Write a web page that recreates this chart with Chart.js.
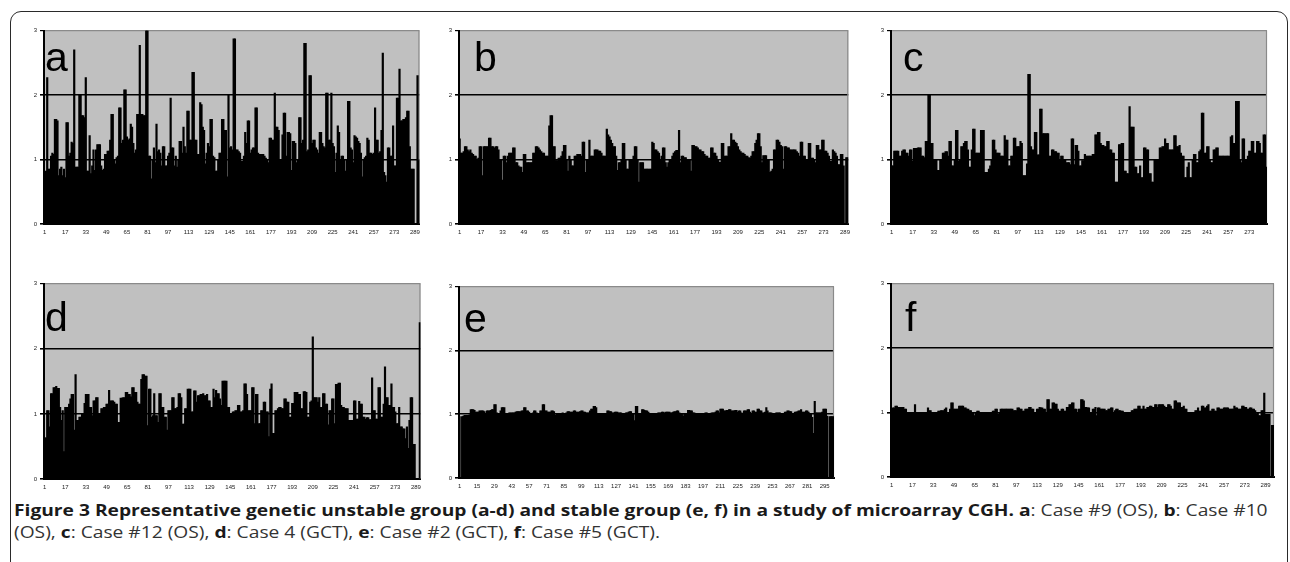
<!DOCTYPE html>
<html>
<head>
<meta charset="utf-8">
<script src="https://cdn.jsdelivr.net/npm/chart.js@4.4.1/dist/chart.umd.min.js"></script>
<style>
  html, body { margin: 0; padding: 0; background: #fff; }
  body { width: 1290px; height: 562px; position: relative; overflow: hidden; }
  #frame { position: absolute; left: 10px; top: 11px; width: 1276px; height: 620px; border: 1.5px solid #2a2a2a; border-radius: 11px; }
  .panel { position: absolute; }
  .letter { position: absolute; font-family: "Liberation Sans", Arial, sans-serif; font-size: 41px; line-height: 41px; color: #000; }
  #caption { position: absolute; left: 14px; top: 499px; font-family: "Open Sans", sans-serif; font-size: 16px; line-height: 22px; color: #333; white-space: nowrap; transform: scaleX(1.2); transform-origin: 0 0; }
  #caption b { color: #1a1a1a; font-weight: 700; }
</style>
</head>
<body>
<div id="frame"></div>
<div id="caption"><b>Figure 3 Representative genetic unstable group (a-d) and stable group (e, f) in a study of microarray CGH.</b> <b>a</b>: Case #9 (OS), <b>b</b>: Case #10<br>(OS), <b>c</b>: Case #12 (OS), <b>d</b>: Case 4 (GCT), <b>e</b>: Case #2 (GCT), <b>f</b>: Case #5 (GCT).</div>
<script>
// copy-number ratios per clone
const caseA = [
  0.8, 0.82, 2.27, 0.85, 0.85, 1.05, 1.1, 1.08, 1.62, 1.62,
  1.6, 0.75, 0.85, 0.88, 0.75, 0.85, 0.72, 1.57, 1.57, 1.05,
  1.1, 1.27, 1.25, 2.7, 0.88, 0.88, 0.88, 2.0, 2.0, 1.68,
  1.68, 1.65, 2.27, 0.82, 0.82, 1.37, 0.78, 0.9, 1.15, 0.83,
  1.15, 1.23, 1.23, 1.23, 0.9, 0.83, 0.85, 1.08, 1.08, 1.13,
  1.13, 1.3, 1.7, 1.7, 1.0, 0.93, 1.03, 1.05, 1.8, 1.8,
  1.25, 1.3, 2.08, 2.08, 1.35, 1.3, 1.32, 1.55, 1.5, 1.25,
  1.1, 1.15, 1.7, 1.7, 2.77, 1.7, 1.7, 1.68, 1.68, 3.0,
  3.0, 1.05, 1.05, 0.7, 1.0, 1.18, 0.95, 1.55, 1.12, 1.15,
  1.1, 0.9, 1.2, 1.2, 0.9, 0.9, 1.05, 1.1, 1.95, 1.18,
  1.18, 0.9, 1.05, 0.88, 1.0, 1.28, 1.28, 1.1, 1.5, 1.2,
  1.1, 1.75, 1.75, 1.3, 1.3, 2.35, 2.35, 1.3, 1.3, 1.08,
  1.08, 1.88, 1.85, 1.5, 1.45, 0.93, 1.1, 1.25, 1.2, 1.62,
  1.62, 1.05, 1.03, 0.82, 0.82, 1.0, 1.1, 1.1, 1.62, 1.62,
  1.45, 1.45, 0.73, 2.0, 1.18, 1.2, 1.15, 2.87, 2.87, 1.15,
  1.15, 1.12, 1.1, 0.97, 0.97, 1.05, 1.42, 1.25, 1.6, 1.6,
  1.1, 1.15, 1.18, 1.18, 1.8, 1.8, 1.1, 1.08, 1.08, 1.08,
  1.08, 1.05, 1.02, 1.0, 0.95, 1.33, 1.33, 1.3, 1.3, 2.03,
  1.5, 1.5, 1.45, 1.0, 1.0, 1.38, 1.72, 1.72, 1.05, 1.42,
  1.42, 1.4, 0.83, 1.28, 1.28, 1.25, 0.95, 1.0, 1.65, 1.65,
  1.25, 1.3, 2.8, 2.8, 1.12, 1.15, 2.3, 2.3, 1.25, 1.3,
  1.3, 1.18, 1.15, 1.1, 1.42, 1.42, 1.25, 1.2, 1.18, 2.03,
  2.03, 1.3, 1.3, 2.03, 1.25, 1.2, 0.8, 1.1, 1.52, 1.42,
  1.0, 1.05, 1.05, 1.0, 0.82, 1.0, 1.9, 1.9, 1.18, 1.15,
  0.95, 1.37, 1.35, 1.33, 1.28, 1.25, 1.1, 0.73, 1.0, 1.03,
  1.05, 1.33, 1.3, 1.1, 1.1, 1.08, 1.1, 1.8, 1.3, 1.3,
  1.1, 1.12, 1.45, 2.65, 0.8, 0.75, 0.65, 1.18, 1.18, 1.05,
  1.05, 1.52, 0.9, 0.9, 1.95, 1.95, 2.4, 1.6, 1.6, 1.62,
  1.62, 1.65, 1.75, 1.75, 1.2, 0.85, 0.85, 0.85, 0, 0, 2.3, 0.98
];
const caseB = [
  1.32, 1.1, 1.1, 1.12, 1.2, 1.2, 1.15, 1.12, 1.15, 1.1,
  1.08, 1.05, 1.05, 1.0, 1.02, 1.2, 1.2, 0.75, 1.2, 1.2,
  1.2, 1.2, 1.33, 1.33, 1.2, 1.2, 1.18, 1.2, 1.2, 1.15,
  1.0, 1.0, 0.68, 1.05, 1.05, 0.95, 1.05, 1.1, 1.1, 1.1,
  1.18, 1.18, 0.95, 0.95, 0.9, 0.88, 0.88, 0.8, 1.08, 1.08,
  0.95, 0.95, 0.95, 0.95, 0.95, 1.1, 1.1, 1.2, 1.2, 1.18,
  1.15, 1.12, 1.1, 1.1, 1.05, 1.05, 1.05, 1.52, 1.68, 1.68,
  1.2, 1.2, 0.98, 0.98, 1.02, 1.02, 1.05, 1.12, 1.22, 1.22,
  1.0, 0.82, 1.05, 1.0, 0.9, 0.9, 1.05, 1.05, 1.08, 1.08,
  1.08, 1.05, 1.27, 1.27, 0.8, 1.0, 1.0, 1.3, 1.05, 1.05,
  1.05, 1.15, 1.15, 1.15, 1.13, 1.13, 1.1, 1.05, 1.05, 1.05,
  1.47, 1.38, 1.35, 1.3, 1.25, 1.2, 1.2, 1.05, 0.83, 0.95,
  0.95, 1.0, 1.25, 1.25, 1.0, 0.85, 0.85, 1.0, 1.0, 1.0,
  1.05, 1.2, 1.2, 1.0, 0.65, 0.95, 0.95, 0.95, 0.85, 0.85,
  0.85, 0.85, 0.85, 0.85, 1.27, 1.25, 1.15, 1.15, 1.12, 1.1,
  1.0, 1.05, 1.18, 1.18, 0.95, 0.88, 0.95, 1.0, 1.0, 1.05,
  1.1, 1.12, 1.14, 1.14, 1.45, 0.95, 1.05, 1.05, 1.03, 1.03,
  1.0, 1.0, 1.0, 0.82, 1.22, 1.22, 1.2, 1.2, 1.18, 1.15,
  1.15, 1.12, 1.12, 1.08, 1.05, 1.05, 1.02, 1.02, 1.18, 1.18,
  1.1, 1.1, 1.05, 1.0, 0.96, 0.96, 1.25, 1.25, 1.05, 1.05,
  1.05, 1.2, 1.2, 1.4, 1.3, 1.3, 1.27, 1.25, 1.2, 1.15,
  1.12, 1.1, 1.1, 1.08, 1.05, 1.05, 1.03, 1.02, 1.05, 1.12,
  1.12, 1.25, 1.3, 1.4, 1.4, 1.2, 0.95, 1.06, 1.06, 1.06,
  1.0, 1.0, 0.8, 0.82, 0.85, 1.15, 1.15, 1.3, 1.3, 1.27,
  1.22, 1.2, 0.85, 1.2, 1.2, 1.18, 1.18, 1.15, 1.15, 1.15,
  1.15, 1.15, 1.12, 1.1, 1.05, 1.27, 1.27, 1.05, 1.05, 1.0,
  1.0, 1.25, 1.25, 1.02, 1.02, 1.0, 0.95, 1.22, 1.22, 1.15,
  1.15, 1.3, 1.3, 1.13, 1.13, 1.1, 1.05, 0.97, 0.97, 1.15,
  1.12, 1.1, 1.05, 0.92, 0.92, 1.08, 1.08, 0.9, 0, 1.03, 1.03
];
const caseC = [
  0.9, 0.9, 1.13, 1.13, 1.13, 1.13, 1.05, 1.05, 1.13, 1.15,
  1.15, 1.1, 1.1, 1.05, 1.15, 1.15, 0.97, 1.17, 1.17, 1.17,
  1.18, 1.18, 1.18, 1.05, 1.05, 1.03, 1.28, 1.28, 2.0, 2.0,
  1.25, 1.25, 1.0, 1.0, 1.0, 0.83, 0.83, 1.0, 1.0, 1.1,
  1.1, 1.12, 1.12, 1.05, 1.28, 1.28, 0.9, 0.9, 1.0, 1.45,
  1.45, 0.97, 1.0, 1.2, 1.2, 1.25, 1.28, 1.28, 1.15, 0.88,
  0.88, 1.15, 1.47, 1.47, 1.1, 1.1, 1.1, 1.1, 1.45, 1.45,
  1.45, 0.8, 0.8, 0.8, 0.85, 0.9, 1.0, 1.3, 1.3, 1.15,
  1.1, 1.1, 1.1, 1.05, 1.05, 1.05, 1.37, 1.3, 1.3, 0.9,
  0.9, 1.05, 1.05, 1.33, 1.33, 1.2, 1.2, 1.2, 1.28, 1.25,
  0.75, 0.75, 0.75, 0.93, 2.32, 2.32, 1.2, 1.15, 1.15, 1.42,
  1.42, 1.07, 1.07, 1.78, 1.78, 1.4, 1.4, 1.4, 1.4, 1.4,
  1.05, 1.05, 1.15, 1.15, 1.12, 1.12, 1.1, 1.1, 1.0, 1.05,
  1.05, 1.0, 1.0, 0.95, 0.95, 0.95, 0.92, 1.32, 1.32, 0.92,
  1.22, 1.22, 1.13, 0.9, 0.9, 0.98, 0.98, 1.08, 1.05, 1.05,
  1.05, 1.05, 1.05, 1.08, 1.08, 1.38, 1.38, 1.42, 1.42, 1.25,
  1.22, 1.22, 1.2, 1.2, 1.28, 1.28, 1.15, 1.15, 1.1, 1.1,
  0.65, 0.65, 0.65, 1.23, 1.23, 1.25, 1.25, 0.82, 0.82, 0.78,
  0.78, 1.82, 1.5, 1.5, 1.5, 0.88, 0.88, 0.78, 0.78, 0.9,
  0.72, 0.72, 1.18, 1.18, 1.15, 1.15, 0.78, 0.78, 0.65, 0.65,
  1.0, 1.0, 1.0, 1.0, 1.18, 1.18, 1.2, 1.2, 1.32, 1.25,
  1.25, 1.15, 1.15, 1.15, 1.15, 1.37, 1.37, 1.2, 1.2, 1.22,
  1.1, 1.05, 1.05, 0.72, 0.72, 0.88, 0.95, 0.72, 0.72, 1.0,
  1.08, 1.08, 0.95, 0.95, 1.12, 1.15, 1.72, 1.72, 1.1, 1.1,
  1.2, 1.2, 1.0, 0.95, 0.95, 1.15, 1.15, 1.18, 1.18, 1.05,
  1.05, 1.05, 1.05, 1.05, 1.05, 1.05, 1.05, 1.05, 1.35, 1.37,
  1.25, 1.25, 1.9, 1.9, 1.9, 1.0, 0.95, 1.32, 1.32, 1.0,
  1.0, 1.05, 1.13, 1.13, 1.28, 1.28, 1.1, 1.1, 1.28, 1.28,
  1.25, 1.1, 1.1, 1.38, 1.38, 0.88
];
const caseD = [
  0.63, 0.63, 1.05, 1.05, 0.8, 1.31, 1.31, 1.4, 1.4, 1.42,
  1.39, 1.39, 1.1, 0.9, 1.05, 0.42, 1.1, 1.1, 1.1, 1.15,
  1.23, 1.3, 1.3, 0.75, 1.6, 0.9, 0.9, 0.95, 0.95, 1.0,
  1.0, 1.16, 1.3, 1.3, 1.3, 1.1, 1.1, 0.97, 1.2, 1.2,
  1.25, 1.25, 1.0, 1.0, 1.08, 1.08, 1.1, 1.1, 1.15, 1.15,
  1.36, 1.2, 1.2, 1.2, 1.18, 1.15, 1.15, 0.87, 0.87, 1.24,
  1.24, 1.25, 1.25, 1.33, 1.33, 1.3, 1.3, 1.26, 1.4, 1.4,
  1.33, 1.33, 1.18, 1.15, 1.15, 1.53, 1.6, 1.6, 1.58, 1.58,
  0.82, 1.38, 1.38, 0.95, 0.97, 1.31, 0.97, 0.97, 0.87, 1.31,
  1.31, 1.1, 1.1, 0.95, 0.95, 0.75, 1.05, 1.05, 1.05, 1.25,
  1.25, 1.08, 1.08, 1.1, 1.31, 1.31, 1.25, 0.84, 0.84, 1.08,
  1.08, 1.38, 1.38, 1.38, 1.03, 1.03, 1.35, 1.35, 1.18, 1.28,
  1.28, 1.3, 1.3, 1.31, 1.28, 1.28, 1.3, 1.2, 1.2, 1.1,
  1.1, 1.38, 1.25, 1.36, 1.31, 1.31, 1.23, 1.13, 1.5, 1.5,
  1.5, 1.5, 1.1, 1.1, 1.0, 1.0, 1.03, 1.03, 1.05, 1.05,
  1.13, 1.13, 1.03, 1.03, 1.05, 1.46, 1.46, 1.3, 1.05, 1.05,
  1.05, 1.4, 1.4, 0.85, 1.3, 1.3, 0.85, 0.85, 1.05, 1.05,
  1.18, 1.18, 1.03, 1.03, 0.65, 1.38, 1.46, 0.7, 0.7, 1.05,
  1.05, 1.08, 1.1, 1.1, 1.08, 1.08, 1.23, 1.23, 1.18, 1.18,
  0.95, 0.95, 1.16, 1.16, 1.33, 1.33, 1.33, 1.3, 1.3, 1.08,
  1.08, 1.34, 1.34, 1.33, 0.95, 0.95, 1.18, 1.2, 2.18, 1.25,
  1.25, 1.25, 1.18, 1.25, 1.1, 1.1, 1.31, 1.31, 1.15, 1.15,
  0.83, 1.05, 1.05, 1.23, 1.23, 0.85, 1.45, 1.45, 1.47, 1.47,
  1.13, 1.1, 1.1, 1.08, 1.08, 1.08, 0.9, 0.9, 0.9, 0.9,
  1.2, 1.2, 0.92, 0.92, 1.19, 1.15, 1.15, 0.95, 0.95, 0.92,
  0.94, 0.94, 0.91, 0.91, 1.55, 1.05, 1.05, 0.92, 0.92, 1.4,
  1.4, 0.95, 0.95, 1.15, 1.72, 1.25, 1.25, 1.13, 1.13, 1.46,
  1.1, 1.1, 1.03, 0.85, 0.85, 1.1, 0.8, 0.8, 0.77, 0.77,
  0.62, 0.8, 0.47, 0.9, 1.25, 1.25, 0.53, 0.53, 0, 0, 0, 2.4
];
const caseE = [
  0.96, 0, 0.96, 0.97, 0.98, 0.98, 0.98, 0.98, 0.99, 1.07,
  1.07, 1.07, 1.06, 1.03, 1.03, 1.03, 1.05, 1.05, 1.05, 1.05,
  1.04, 1.0, 1.05, 1.05, 1.05, 1.06, 1.07, 1.07, 1.15, 1.15,
  1.02, 1.0, 1.0, 1.05, 1.1, 1.1, 1.1, 1.0, 1.0, 1.0,
  1.02, 1.02, 1.02, 1.02, 1.02, 1.03, 1.04, 1.04, 1.04, 1.04,
  1.05, 1.05, 1.1, 1.1, 1.05, 1.05, 1.03, 1.0, 1.0, 1.02,
  1.05, 1.05, 1.02, 1.0, 1.0, 1.05, 1.05, 1.15, 1.15, 1.05,
  1.05, 1.03, 1.03, 1.03, 1.05, 1.05, 1.04, 0.98, 1.0, 1.01,
  1.0, 1.01, 1.0, 1.02, 1.01, 1.01, 1.02, 1.04, 1.04, 1.03,
  1.03, 1.03, 1.05, 1.05, 1.03, 1.03, 1.03, 1.04, 1.05, 1.05,
  1.03, 1.03, 1.02, 1.02, 1.02, 1.05, 1.08, 1.08, 1.12, 1.12,
  1.1, 1.0, 1.0, 1.0, 1.0, 1.01, 1.0, 1.0, 1.0, 1.05,
  1.05, 1.04, 1.04, 1.02, 1.02, 1.03, 1.03, 1.03, 1.02, 1.02,
  1.02, 1.0, 1.0, 1.0, 1.02, 1.02, 1.03, 1.04, 1.04, 1.0,
  1.0, 0.9, 1.12, 1.12, 1.0, 1.0, 1.0, 1.07, 1.07, 1.06,
  1.05, 1.05, 1.03, 1.0, 1.0, 1.0, 1.0, 1.0, 1.01, 1.01,
  1.02, 1.02, 1.02, 1.03, 1.03, 1.02, 1.03, 1.03, 1.03, 1.03,
  1.02, 1.02, 1.03, 1.04, 1.04, 1.05, 1.05, 1.02, 1.0, 1.0,
  0.97, 1.0, 1.0, 1.0, 1.06, 1.06, 1.05, 1.05, 1.02, 1.02,
  1.0, 1.0, 1.0, 1.0, 1.0, 1.0, 1.0, 1.0, 1.02, 1.02,
  1.0, 1.0, 1.01, 1.02, 1.02, 1.02, 1.03, 1.05, 1.05, 1.02,
  1.08, 1.08, 1.08, 1.05, 1.05, 1.06, 1.06, 1.07, 1.07, 1.05,
  1.05, 1.05, 1.06, 1.06, 1.03, 1.05, 1.05, 1.02, 1.0, 1.05,
  1.05, 1.05, 1.07, 1.07, 1.03, 1.0, 1.05, 1.05, 1.03, 1.03,
  1.08, 1.08, 1.05, 1.05, 1.02, 1.02, 1.03, 1.1, 1.05, 1.02,
  1.02, 1.02, 1.0, 1.0, 1.01, 1.02, 1.02, 1.02, 1.02, 1.0,
  1.0, 1.01, 1.03, 1.03, 1.05, 1.05, 1.04, 1.04, 1.0, 1.0,
  1.03, 1.03, 1.04, 1.05, 1.05, 1.07, 1.03, 1.03, 1.03, 1.05,
  1.05, 1.03, 1.0, 1.0, 0.95, 0.7, 1.2, 1.02, 1.02, 1.02,
  1.02, 1.02, 1.03, 1.08, 1.08, 1.08, 0.97, 0, 0.96, 0.96,
  0.96, 0.96
];
const caseF = [
  1.03, 1.07, 1.07, 1.1, 1.1, 1.08, 1.08, 1.08, 1.08, 1.08,
  1.05, 1.05, 1.0, 1.0, 1.0, 1.0, 1.0, 1.0, 1.12, 1.0,
  1.0, 1.0, 1.0, 1.0, 1.0, 1.0, 1.0, 1.0, 1.07, 1.03,
  1.03, 1.0, 1.0, 1.0, 1.0, 1.0, 1.02, 1.02, 1.03, 1.03,
  1.03, 1.05, 1.07, 0.98, 1.0, 1.05, 1.15, 1.15, 1.05, 1.05,
  1.05, 1.05, 1.1, 1.1, 1.1, 1.1, 1.07, 1.07, 1.05, 1.05,
  1.03, 1.03, 1.0, 1.0, 0.95, 1.0, 1.02, 1.02, 1.0, 1.0,
  1.0, 1.0, 1.0, 1.0, 1.0, 1.0, 1.0, 1.0, 1.02, 1.02,
  1.05, 1.05, 0.97, 1.0, 1.05, 1.05, 1.05, 1.05, 1.05, 1.05,
  1.05, 1.05, 1.05, 1.05, 1.03, 1.03, 1.03, 1.07, 1.07, 1.05,
  1.05, 1.02, 1.02, 1.05, 1.05, 1.05, 1.08, 1.08, 1.05, 1.05,
  1.0, 1.0, 1.05, 1.05, 1.08, 1.07, 1.07, 1.05, 1.05, 1.0,
  1.2, 1.2, 1.05, 1.05, 1.15, 1.15, 1.13, 1.13, 1.05, 1.02,
  1.02, 1.05, 1.05, 1.02, 1.02, 1.08, 1.08, 1.12, 1.12, 1.15,
  1.15, 1.05, 1.05, 1.0, 1.05, 1.05, 1.2, 1.2, 1.18, 1.08,
  1.08, 1.07, 1.07, 1.0, 1.0, 1.05, 1.05, 1.08, 0.95, 1.07,
  1.07, 1.05, 1.05, 1.05, 1.05, 1.03, 1.03, 1.05, 1.05, 1.07,
  1.07, 1.0, 1.03, 1.05, 1.05, 1.03, 1.03, 1.02, 1.02, 1.0,
  1.0, 1.0, 1.0, 1.0, 1.0, 1.03, 1.03, 1.05, 1.05, 1.05,
  1.1, 1.1, 1.05, 1.05, 1.1, 1.05, 1.05, 1.08, 1.08, 1.1,
  1.1, 1.08, 1.08, 1.12, 1.12, 1.08, 1.12, 1.12, 1.12, 1.12,
  1.1, 1.08, 1.08, 1.12, 1.12, 1.1, 1.05, 1.05, 1.18, 1.18,
  1.15, 1.15, 1.15, 1.08, 1.08, 1.1, 1.05, 1.05, 1.0, 1.0,
  1.0, 1.0, 1.0, 1.0, 1.03, 1.03, 1.07, 1.02, 1.02, 1.1,
  1.1, 1.07, 1.07, 1.1, 1.12, 1.02, 1.02, 1.05, 1.05, 1.02,
  1.02, 1.07, 1.07, 1.05, 1.05, 1.05, 1.07, 1.07, 1.07, 1.07,
  1.05, 1.05, 1.05, 1.05, 1.1, 1.07, 1.07, 1.05, 1.05, 1.05,
  1.1, 1.1, 1.08, 1.08, 1.05, 1.05, 1.07, 1.07, 1.05, 1.05,
  1.03, 0.98, 1.0, 0.95, 0.95, 1.03, 1.03, 1.3, 0.97, 0.97,
  0.97, 0.97, 0, 0.8, 0.8
];
const yTicks = [0, 1, 2, 3];

// plot-area boxes [left, top, right, bottom] and letter spots
const panels = [
  { letter: 'a', values: caseA, every: 16, box: [44, 30, 421, 224], at: [45, 37] },
  { letter: 'b', values: caseB, every: 16, box: [459, 30, 851, 224], at: [474, 37] },
  { letter: 'c', values: caseC, every: 16, box: [891, 30, 1267, 224], at: [903, 37] },
  { letter: 'd', values: caseD, every: 16, box: [44, 283, 422, 479], at: [45, 297] },
  { letter: 'e', values: caseE, every: 14, box: [459, 286, 834, 478], at: [464, 298] },
  { letter: 'f', values: caseF, every: 16, box: [891, 283, 1274, 477], at: [905, 297] }
];

const plotBg = {
  id: 'plotBg',
  beforeDraw(chart) {
    const { ctx, chartArea: a } = chart;
    ctx.save();
    ctx.fillStyle = '#c0c0c0';
    ctx.fillRect(a.left, a.top, a.right - a.left, a.bottom - a.top);
    ctx.restore();
  },
  beforeDatasetsDraw(chart) {
    const { ctx, chartArea: a } = chart;
    ctx.save();
    ctx.strokeStyle = '#8a8a8a';
    ctx.lineWidth = 1.2;
    ctx.beginPath();
    ctx.moveTo(a.right - 0.5, a.top);
    ctx.lineTo(a.right - 0.5, a.bottom);
    ctx.stroke();
    ctx.restore();
  }
};

const tickFont = { family: '"Liberation Sans", Arial, sans-serif', size: 6 };

function makePanel(p) {
  const padL = 26, padT = 6, padR = 4, padB = 18;
  const [L, T, R, B] = p.box;
  const w = R - L + padL + padR;
  const h = B - T + padT + padB;

  const wrap = document.createElement('div');
  wrap.className = 'panel';
  wrap.style.left = (L - padL) + 'px';
  wrap.style.top = (T - padT) + 'px';
  const canvas = document.createElement('canvas');
  canvas.width = w;
  canvas.height = h;
  canvas.style.width = w + 'px';
  canvas.style.height = h + 'px';
  wrap.appendChild(canvas);
  document.body.appendChild(wrap);

  const tag = document.createElement('div');
  tag.className = 'letter';
  tag.textContent = p.letter;
  tag.style.left = p.at[0] + 'px';
  tag.style.top = p.at[1] + 'px';
  document.body.appendChild(tag);

  const labels = p.values.map((_, i) => String(i + 1));

  new Chart(canvas, {
    type: 'bar',
    data: {
      labels: labels,
      datasets: [{
        data: p.values,
        backgroundColor: '#000',
        borderWidth: 0,
        barPercentage: 1,
        categoryPercentage: 1,
        inflateAmount: 0.45
      }]
    },
    options: {
      responsive: false,
      animation: false,
      devicePixelRatio: 1,
      layout: { padding: { top: padT, right: padR, left: 0, bottom: 0 } },
      plugins: { legend: { display: false }, tooltip: { enabled: false } },
      scales: {
        x: {
          grid: { display: false, drawTicks: false, tickLength: 0 },
          border: { color: '#000', width: 2 },
          ticks: {
            autoSkip: false, maxRotation: 0, minRotation: 0, padding: 5,
            font: tickFont, color: '#222',
            callback: (v, i) => (i % p.every === 0 ? labels[i] : null)
          },
          afterFit: s => { s.height = padB; }
        },
        y: {
          min: yTicks[0],
          max: yTicks[yTicks.length - 1],
          afterBuildTicks: s => { s.ticks = yTicks.map(v => ({ value: v })); },
          ticks: { padding: 3, font: tickFont, color: '#222' },
          grid: {
            color: c => (c.tick && c.tick.value === 3 ? '#8a8a8a' : '#000'),
            lineWidth: c => (c.tick && c.tick.value === 3 ? 1.2 : 1.6),
            tickColor: '#000',
            tickLength: 4
          },
          border: { color: '#000', width: 2 },
          afterFit: s => { s.width = padL; }
        }
      }
    },
    plugins: [plotBg]
  });
}

panels.forEach(makePanel);
</script>
</body>
</html>
